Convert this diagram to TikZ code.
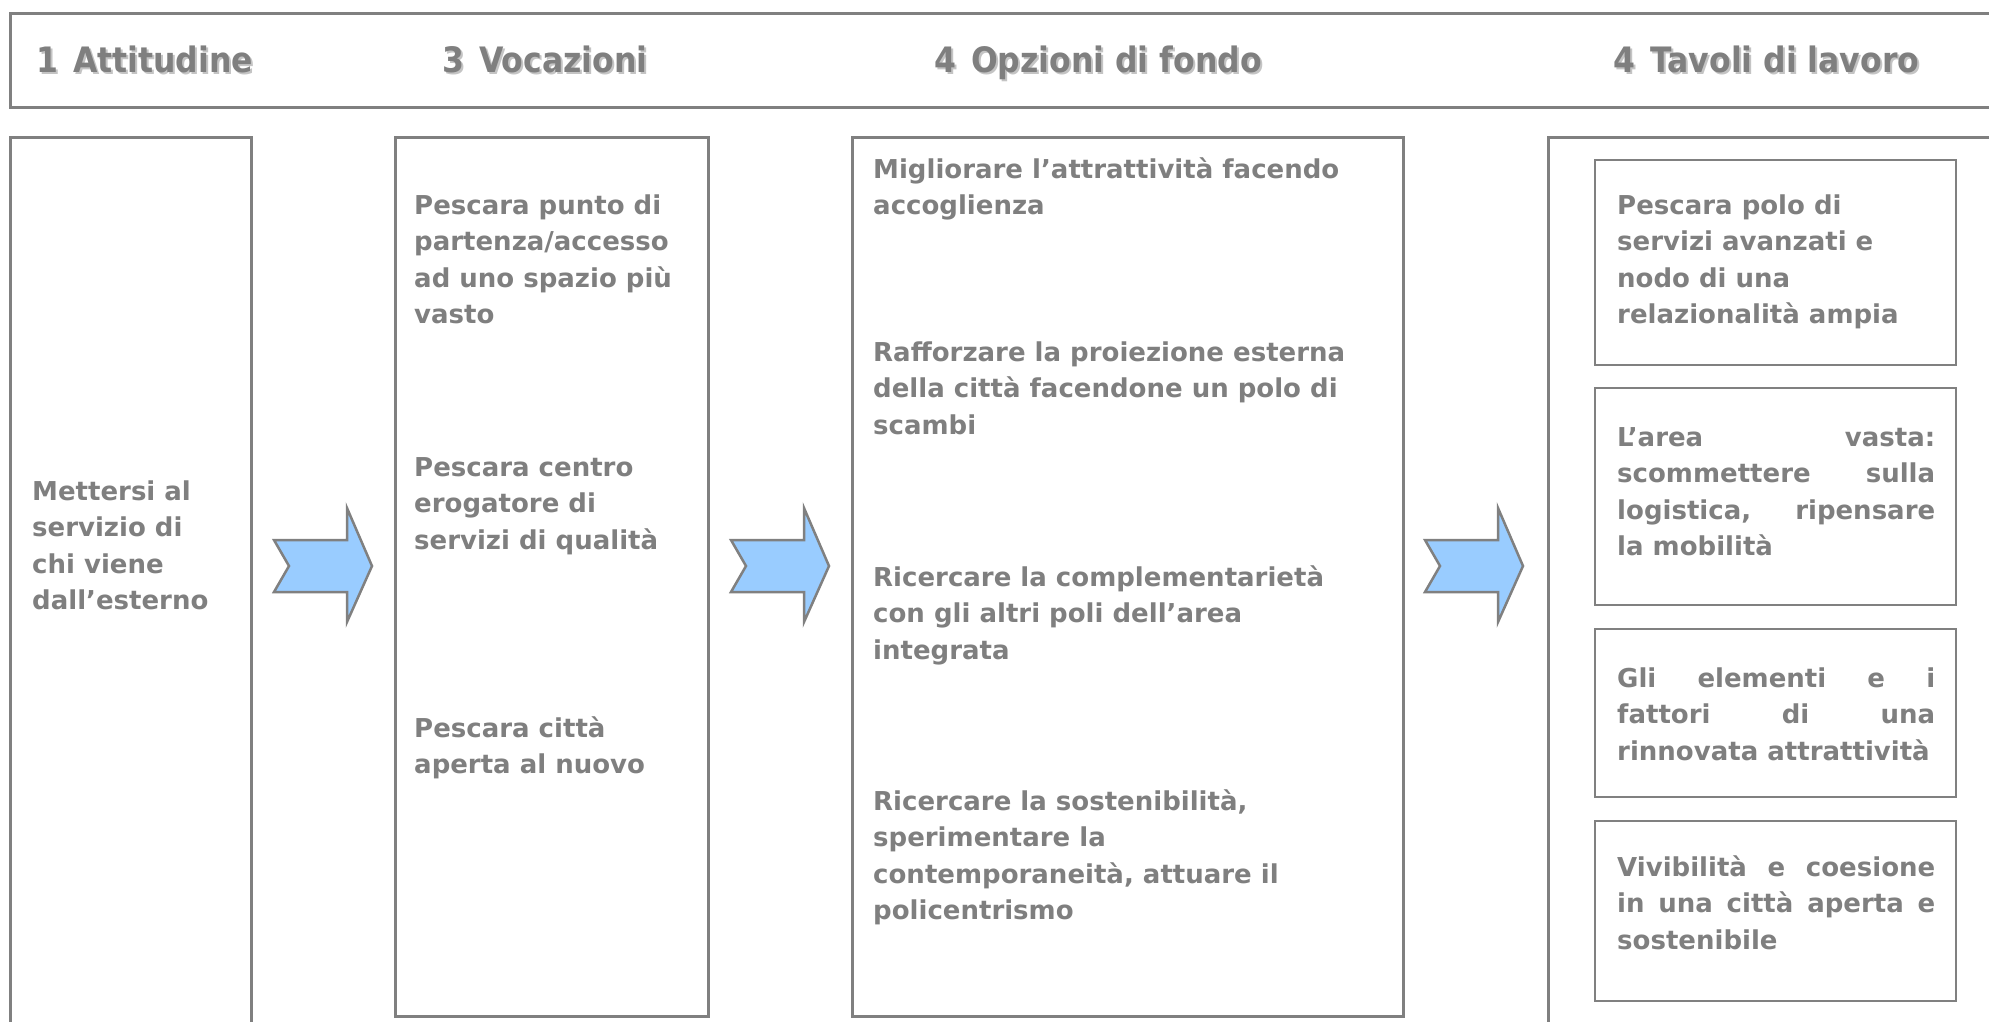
\documentclass[tikz,border=0pt]{standalone}
\usepackage{fontspec}
\setmainfont{DejaVu Sans}
\newfontfamily\hdrfont[FakeStretch=0.9]{DejaVu Sans}
\definecolor{tgray}{HTML}{7F7F7F}
\definecolor{lgray}{HTML}{808080}
\definecolor{shad}{HTML}{C4C4C4}
\definecolor{arrowblue}{HTML}{99CCFF}
\newcommand\bodyfont{\fontsize{26}{36.5}\selectfont\bfseries}
\newcommand\hfont{\hdrfont\fontsize{35}{40}\selectfont\bfseries}
\newcommand\fl{\rule{0pt}{24pt}}
\newcommand\jl[1]{\hbox to 318pt{#1}}
\newcommand\hg{\hspace{15pt}}
\begin{document}
\begin{tikzpicture}[x=1pt,y=-1pt,
  frame/.style={draw=lgray, line width=3pt, anchor=north west, inner sep=0pt, outer sep=0pt},
  subframe/.style={draw=lgray, line width=2.5pt, anchor=north west, inner sep=0pt, outer sep=0pt},
  hdr/.style={anchor=base west, inner sep=0pt, text=tgray, font=\hfont},
  hdrshadow/.style={anchor=base west, inner sep=0pt, text=shad, font=\hfont},
  txt/.style={anchor=north west, inner sep=0pt, align=left, text=tgray, font=\bodyfont},
  flow/.style={draw=lgray, line width=2.5pt, fill=arrowblue, line join=miter}
]
\useasboundingbox (0,0) rectangle (1989,1021);
\clip (0,0) rectangle (1989,1021);

% header band
\node[frame, minimum width=2000pt, minimum height=94pt] (hdrbox) at (10,13) {};
\node[hdrshadow] (h1s) at (38,74) {1\hg Attitudine};
\node[hdr] (h1) at (36,72) {1\hg Attitudine};
\node[hdrshadow] (h2s) at (444,74) {3\hg Vocazioni};
\node[hdr] (h2) at (442,72) {3\hg Vocazioni};
\node[hdrshadow] (h3s) at (936,74) {4\hg Opzioni di fondo};
\node[hdr] (h3) at (934,72) {4\hg Opzioni di fondo};
\node[hdrshadow] (h4s) at (1615,74) {4\hg Tavoli di lavoro};
\node[hdr] (h4) at (1613,72) {4\hg Tavoli di lavoro};

% columns
\node[frame, minimum width=241pt, minimum height=900pt] (col1) at (10,137) {};
\node[frame, minimum width=313pt, minimum height=879pt] (col2) at (395,137) {};
\node[frame, minimum width=551pt, minimum height=879pt] (col3) at (852,137) {};
\node[frame, minimum width=500pt, minimum height=900pt] (col4) at (1548,137) {};

\node[subframe, minimum width=361pt, minimum height=205pt] (in1) at (1595,160) {};
\node[subframe, minimum width=361pt, minimum height=217pt] (in2) at (1595,388) {};
\node[subframe, minimum width=361pt, minimum height=168pt] (in3) at (1595,629) {};
\node[subframe, minimum width=361pt, minimum height=180pt] (in4) at (1595,821) {};

% column 1
\node[txt] (t1) at (32,476) {\fl Mettersi al\\servizio di\\chi viene\\dall’esterno};

% column 2
\node[txt] (t2a) at (414,190) {\fl Pescara punto di\\partenza/accesso\\ad uno spazio più\\vasto};
\node[txt] (t2b) at (414,452) {\fl Pescara centro\\erogatore di\\servizi di qualità};
\node[txt] (t2c) at (414,713) {\fl Pescara città\\aperta al nuovo};

% column 3
\node[txt] (t3a) at (873,154) {\fl Migliorare l’attrattività facendo\\accoglienza};
\node[txt] (t3b) at (873,337) {\fl Rafforzare la proiezione esterna\\della città facendone un polo di\\scambi};
\node[txt] (t3c) at (873,562) {\fl Ricercare la complementarietà\\con gli altri poli dell’area\\integrata};
\node[txt] (t3d) at (873,786) {\fl Ricercare la sostenibilità,\\sperimentare la\\contemporaneità, attuare il\\policentrismo};

% column 4
\node[txt] (t4a) at (1617,190) {\fl Pescara polo di\\servizi avanzati e\\nodo di una\\relazionalità ampia};
\node[txt] (t4b) at (1617,422) {\fl\jl{L’area\hfill vasta:}\\\jl{scommettere\hfill sulla}\\\jl{logistica,\hfill ripensare}\\la mobilità};
\node[txt] (t4c) at (1617,663) {\fl\jl{Gli\hfill elementi\hfill e\hfill i}\\\jl{fattori\hfill di\hfill una}\\rinnovata attrattività};
\node[txt] (t4d) at (1617,852) {\fl\jl{Vivibilità\hfill e\hfill coesione}\\\jl{in\hfill una\hfill città\hfill aperta\hfill e}\\sostenibile};

% arrows
\coordinate (a1) at (274,566);
\coordinate (a2) at (731,566);
\coordinate (a3) at (1425,566);
\foreach \a in {a1,a2,a3}{
  \path[flow] (\a) ++(0,-26) -- ++(15,26) -- ++(-15,26) -- ++(73,0) -- ++(0,30)
     -- ++(25,-56) -- ++(-25,-58) -- ++(0,32) -- cycle;
}
\end{tikzpicture}
\end{document}
